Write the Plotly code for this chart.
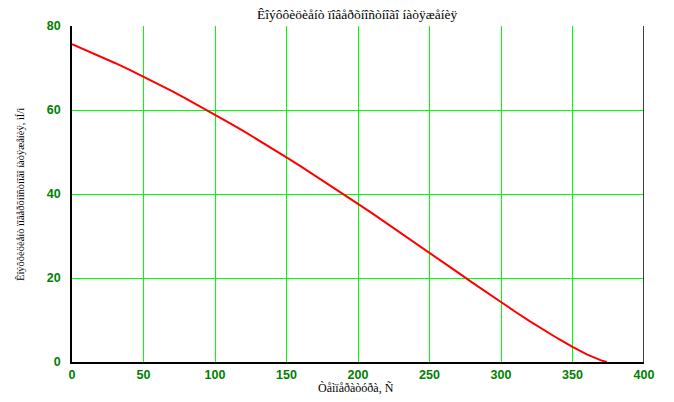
import plotly.graph_objects as go

temperature = [0, 10, 20, 30, 40, 50, 60, 70, 80, 90, 100, 110, 120, 130, 140, 150,
               160, 170, 180, 190, 200, 210, 220, 230, 240, 250, 260, 270, 280, 290,
               300, 310, 320, 330, 340, 350, 360, 370, 374]
tension = [75.65, 74.22, 72.74, 71.2, 69.6, 67.94, 66.24, 64.47, 62.67, 60.82, 58.91,
           56.96, 54.97, 52.93, 50.86, 48.74, 46.59, 44.41, 42.19, 39.95, 37.67, 35.38,
           33.06, 30.72, 28.37, 26.01, 23.64, 21.27, 18.91, 16.56, 14.25, 11.97, 9.75,
           7.6, 5.54, 3.6, 1.82, 0.39, 0.0]

title_text = "Êîýôôèöèåíò ïîâåðõíîñòíîãî íàòÿæåíèÿ"
x_title = "Òåìïåðàòóðà, Ñ"
y_title = "Êîýôôèöèåíò ïîâåðõíîñòíîãî íàòÿæåíèÿ, ìÍ/ì"

OFF = 8  # default page body margin
W, H = 674 - OFF, 402 - OFF
L, R, T, B = 72 - OFF, 30, 26 - OFF, 40
PW, PH = W - L - R, H - T - B

fig = go.Figure()
fig.add_trace(go.Scatter(x=temperature, y=tension, mode="lines",
                         line=dict(color="#ff0000", width=2), showlegend=False))

tickfont = dict(family="Liberation Sans", size=12.5, color="#008000", weight="bold")
fig.update_layout(
    width=W, height=H,
    margin=dict(l=L, r=R, t=T, b=B, autoexpand=False),
    paper_bgcolor="white", plot_bgcolor="white",
    xaxis=dict(range=[0, 400], tickvals=[0, 50, 100, 150, 200, 250, 300, 350, 400],
               showgrid=True, gridcolor="#00ff00", gridwidth=1, zeroline=False,
               showline=True, linecolor="black", linewidth=1.5, mirror=False,
               ticks="", tickfont=tickfont, ticklabelstandoff=0, automargin=False),
    yaxis=dict(range=[0, 80], tickvals=[0, 20, 40, 60, 80],
               showgrid=True, gridcolor="#00ff00", gridwidth=1, zeroline=False,
               showline=True, linecolor="black", linewidth=1.5, mirror=False,
               ticks="", tickfont=tickfont, ticklabelstandoff=7, automargin=False),
    annotations=[
        dict(text=title_text, xref="paper", yref="paper", x=(357 - 72) / PW,
             y=1 + (26 - 15) / PH, xanchor="center", yanchor="middle",
             showarrow=False,
             font=dict(family="Liberation Serif", size=13.5, color="black")),
        dict(text=x_title, xref="paper", yref="paper", x=(356 - 72) / PW,
             y=-(388 - 362) / PH, xanchor="center", yanchor="middle",
             showarrow=False,
             font=dict(family="Liberation Serif", size=12, color="black")),
        dict(text=y_title, xref="paper", yref="paper", x=-(72 - 20) / PW,
             y=(362 - 195) / PH, xanchor="center", yanchor="middle", textangle=-90,
             showarrow=False,
             font=dict(family="Liberation Serif", size=10.5, color="black")),
    ],
)
fig.add_shape(type="line", xref="x", yref="paper", x0=400, x1=400, y0=0, y1=1,
              line=dict(color="black", width=1.5))

fig.write_html("out.html")
